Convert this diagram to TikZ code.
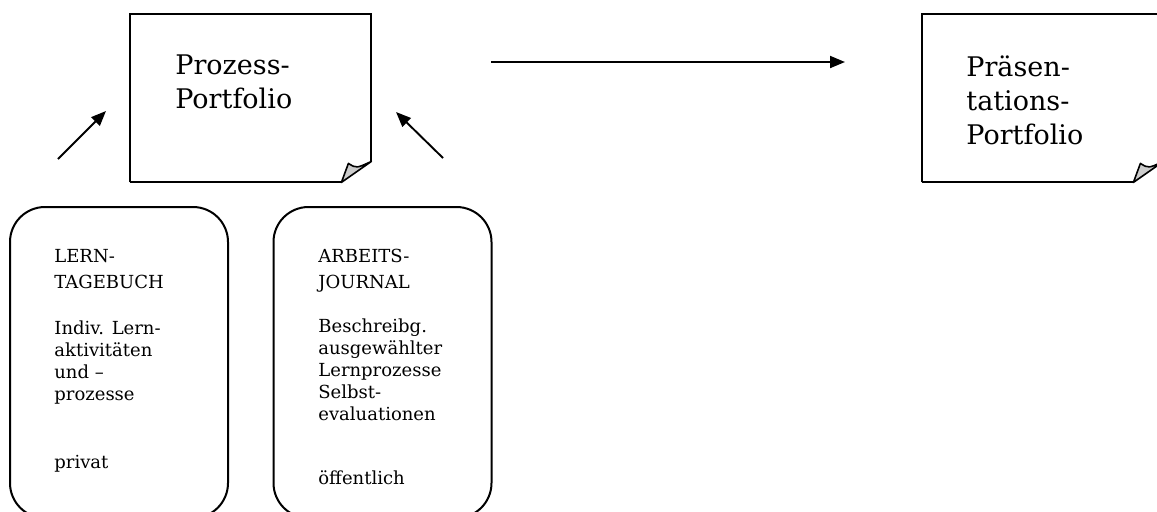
\documentclass[tikz,border=0pt]{standalone}
\usepackage{fontspec}
\setmainfont{DejaVu Serif}
\usepackage{tikz}
\usetikzlibrary{arrows.meta,positioning,calc}

% page outline with a turned-up corner, drawn round a named node
\newcommand\dogear[1]{%
  \draw[pageline] (#1.south west) -- (#1.north west) -- (#1.north east) -- ($(#1.south east)+(0,-21)$);
  \draw[pageline] (#1.south west) -- ($(#1.south east)+(-30,0)$);
  \filldraw[fold] ($(#1.south east)+(-30,0)$) -- ($(#1.south east)+(-23,-19)$)
    .. controls ($(#1.south east)+(-15,-14)$) .. ($(#1.south east)+(0,-21)$) -- cycle;
}

\begin{document}
\begin{tikzpicture}[
    x=0.5pt, y=-0.5pt,
    page/.style={rectangle, minimum width=120.5pt, minimum height=84pt, inner sep=0pt},
    pageline/.style={line width=0.95pt, line join=miter},
    fold/.style={line width=0.8pt, fill=black!20, line join=round},
    bigtext/.style={align=left, inner sep=0pt, font=\fontsize{13.5pt}{17pt}\selectfont},
    card/.style={rectangle, draw, line width=1pt, rounded corners=17.5pt, minimum width=109pt, minimum height=155.5pt, inner sep=0pt},
    cardtext/.style={align=left, inner sep=0pt, font=\fontsize{9pt}{11pt}\selectfont},
    arr/.style={line width=0.95pt, -{Triangle[length=7.5pt,width=6pt]}}
]
    \useasboundingbox (0,0) rectangle (1157,511);

    \node [page] (prozess) at (250.5,98) {};
    \node [page] (praes) at (1042.5,98) {};
    \dogear{prozess}
    \dogear{praes}
    \node [bigtext, anchor=north west] (prozesslbl) at (175,54) {Prozess-\\Portfolio};
    \node [bigtext, anchor=north west] (praeslbl) at (966,55) {Präsen-\\tations-\\Portfolio};

    \node [card] (lern) at (119,362.5) {};
    \node [card] (arbeit) at (382.5,362.5) {};
    \node [cardtext, anchor=north west] (lerntxt) at (54,249)
        {LERN-\\[2pt]TAGEBUCH\\[12pt]Indiv. Lern-\\aktivitäten\\und –\\prozesse\\[23pt]privat};
    \node [cardtext, anchor=north west] (arbeittxt) at (318,249)
        {ARBEITS-\\[2pt]JOURNAL\\[11pt]Beschreibg.\\ausgewählter\\Lernprozesse\\Selbst-\\evaluationen\\[21pt]öffentlich};

    \coordinate (lernup) at (58,159);
    \coordinate (lerntip) at (106,111);
    \coordinate (arbeitup) at (443,158);
    \coordinate (arbeittip) at (396,112);
    \coordinate (pstart) at (491,62);
    \coordinate (pend) at (845,62);

    \draw [arr] (lernup) -- (lerntip);
    \draw [arr] (arbeitup) -- (arbeittip);
    \draw [arr] (pstart) -- (pend);
\end{tikzpicture}
\end{document}
